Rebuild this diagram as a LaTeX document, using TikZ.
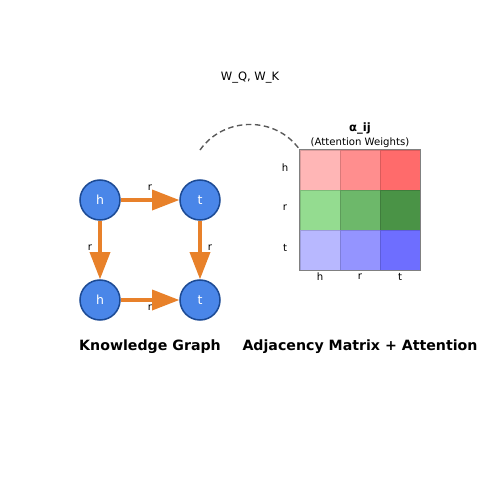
\documentclass[tikz,border=0pt]{standalone}
\usepackage{fontspec}
\setmainfont{DejaVu Sans}
\usetikzlibrary{arrows.meta}
\definecolor{entity}{HTML}{4A86E8}
\definecolor{entityrim}{HTML}{1C4A94}
\definecolor{relorange}{HTML}{E8812A}
\definecolor{hh}{HTML}{FFB6B6}
\definecolor{hr}{HTML}{FF8E8E}
\definecolor{ht}{HTML}{FF6B6B}
\definecolor{rh}{HTML}{94DC90}
\definecolor{rr}{HTML}{6DB86A}
\definecolor{rt}{HTML}{4A9346}
\definecolor{th}{HTML}{B8B8FF}
\definecolor{tr}{HTML}{9494FF}
\definecolor{tt}{HTML}{6E6EFF}
\tikzset{
    entitynode/.style={circle, draw=entityrim, fill=entity, line width=1.1pt,
        minimum size=28.8pt, inner sep=0pt, text=white, font=\fontsize{9}{10}\selectfont},
    relation/.style={draw=relorange, line width=2.2pt,
        -{Triangle[length=19.5pt, width=14.5pt]}},
    rellabel/.style={font=\fontsize{7.3}{8}\selectfont, inner sep=1pt},
    cell/.style={minimum size=28.8pt, inner sep=0pt, line width=0.6pt},
    axislabel/.style={font=\fontsize{7.3}{8}\selectfont, inner sep=1pt},
    paneltitle/.style={font=\bfseries\fontsize{10.2}{12}\selectfont},
}
\begin{document}
\begin{tikzpicture}[x=0.72pt, y=-0.72pt]
\useasboundingbox (0,0) rectangle (500,500);

		% knowledge graph
		\node[entitynode] (h1) at (100,200) {h};
		\node[entitynode] (t1) at (200,200) {t};
		\node[entitynode] (h2) at (100,300) {h};
		\node[entitynode] (t2) at (200,300) {t};

		\draw[relation] (h1) -- (t1);
		\draw[relation] (h1) -- (h2);
		\draw[relation] (t1) -- (t2);
		\draw[relation] (h2) -- (t2);

		\node[rellabel] at (150,188) {r};
		\node[rellabel] at (150,308) {r};
		\node[rellabel] at (90,248) {r};
		\node[rellabel] at (210,248) {r};

		\node[paneltitle] (kgtitle) at (150,346.5) {Knowledge Graph};

		% attention matrix
		\foreach \row/\ry in {h/170, r/210, t/250} {
			\foreach \col/\cx in {h/320, r/360, t/400} {
				\node[cell, fill=\row\col, draw=\row\col!85!black] (cell-\row-\col) at (\cx,\ry) {};
			}
			\node[axislabel] at (285,\ry-2) {\row};
		}
		\foreach \col/\cx in {h/320, r/360, t/400}
			\node[axislabel] at (\cx,277) {\col};
		\draw[gray, line width=0.8pt] (cell-h-h.north west) rectangle (cell-t-t.south east);

		\node[font=\bfseries\fontsize{8.3}{10}\selectfont] (alpha) at (360,128) {α\_ij};
		\node[axislabel] (attnote) at (360,143) {(Attention Weights)};
		\node[font=\fontsize{8.3}{10}\selectfont] (wqk) at (250,77.5) {W\_Q, W\_K};

		\coordinate (arcstart) at (200,150);
		\draw[dashed, dash pattern=on 4pt off 2.5pt, draw=black!65, line width=1pt]
			(arcstart) .. controls (224,116) and (276,116) .. (cell-h-h.north west);

		\node[paneltitle] (amtitle) at (360,346.5) {Adjacency Matrix + Attention};
\end{tikzpicture}
\end{document}
